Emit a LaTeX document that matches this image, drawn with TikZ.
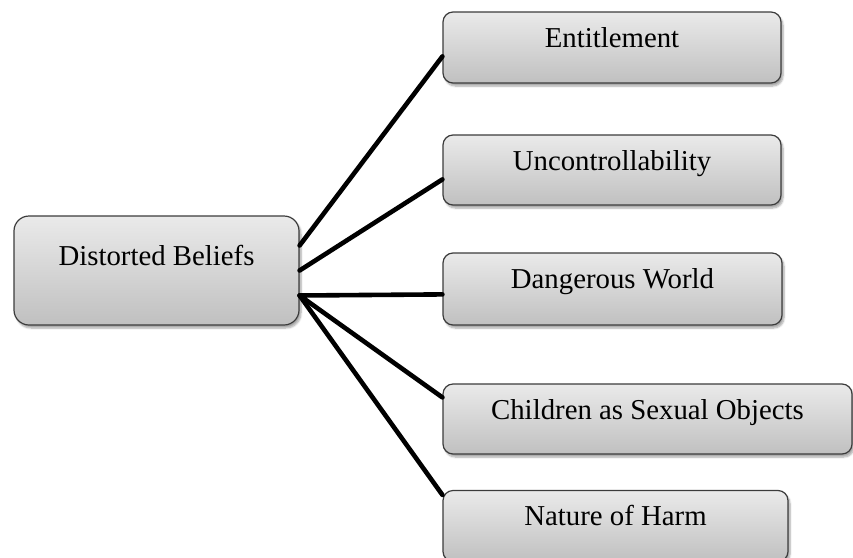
\documentclass[tikz,border=0pt]{standalone}
\usepackage{fontspec}
\setmainfont{Liberation Serif}
\usetikzlibrary{shadows,shadows.blur}
\definecolor{boxtop}{RGB}{234,234,234}
\definecolor{boxbot}{RGB}{192,192,192}
\definecolor{boxline}{RGB}{60,60,60}
\tikzset{
  beliefbox/.style={draw=boxline, line width=1.2pt, rounded corners=10pt,
    top color=boxtop, bottom color=boxbot, inner xsep=0pt, inner ysep=0pt,
    text height=35pt, anchor=center,
    font=\fontsize{28.8}{34}\selectfont,
    blur shadow={shadow xshift=2pt, shadow yshift=-3pt, shadow blur steps=6, shadow opacity=35}},
  link/.style={line width=4.6pt, black, line cap=round}
}
\begin{document}
\begin{tikzpicture}[x=1pt,y=-1pt]
\useasboundingbox (0,0) rectangle (853,557);
\node[beliefbox, rounded corners=15pt, minimum width=285pt, text height=49pt, text depth=60pt] (db) at (156.5,270.5) {Distorted Beliefs};
\node[beliefbox, minimum width=338pt, text depth=36pt] (e1) at (612,47.5) {Entitlement};
\node[beliefbox, minimum width=338pt, text depth=35pt] (e2) at (612,170) {Uncontrollability};
\node[beliefbox, minimum width=339pt, text depth=37pt] (e3) at (612.5,289) {Dangerous World};
\node[beliefbox, minimum width=409pt, text depth=35pt] (e4) at (647.5,419) {Children as Sexual Objects};
\node[beliefbox, minimum width=345pt, text depth=36pt] (e5) at (615.5,526) {Nature of Harm};
\coordinate (s1) at ([yshift=25pt]db.east);
\coordinate (s2) at (db.east);
\coordinate (s3) at ([yshift=-25pt]db.east);
\draw[link] (s1) -- ([yshift=-45pt]e1.north west);
\draw[link] (s2) -- ([yshift=-45pt]e2.north west);
\draw[link] (s3) -- ([yshift=-42pt]e3.north west);
\draw[link] (s3) -- ([yshift=-14pt]e4.north west);
\draw[link] (s3) -- ([yshift=-5pt]e5.north west);
\end{tikzpicture}
\end{document}
